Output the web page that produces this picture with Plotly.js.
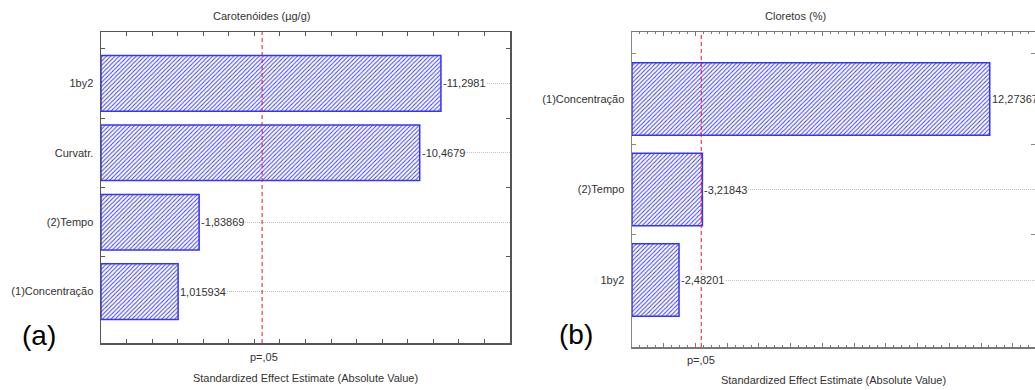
<!DOCTYPE html>
<html>
<head>
<meta charset="utf-8">
<script src="https://cdn.plot.ly/plotly-3.0.1.min.js"></script>
<style>
  html, body { margin: 0; padding: 0; background: #fff; overflow: hidden; }
  #chart { width: 1035px; height: 390px; }
</style>
</head>
<body>
<div id="chart"></div>
<script>
// ---- data ----
const titleA = 'Carotenóides (µg/g)';
const titleB = 'Cloretos (%)';
const xTitle = 'Standardized Effect Estimate (Absolute Value)';
const catsA = ['1by2', 'Curvatr.', '(2)Tempo', '(1)Concentração'];
const effectsA = [-11.2981, -10.4679, -1.83869, 1.015934];
const catsB = ['(1)Concentração', '(2)Tempo', '1by2'];
const effectsB = [12.27367, -3.21843, -2.48201];
const pCritA = 4.303;
const pCritB = 3.182;
const pLabel = 'p=,05';
const panelLabels = ['(a)', '(b)'];

// ---- styling / layout ----
const FONT = 'Liberation Sans, Arial, sans-serif';
const TXT = '#333333';
const X_A = [-2, 14];
const X_B = [1, 13.7];

function fmt(v) { return String(v).replace('.', ','); }

function barTrace(cats, effects, xmin, xa, ya) {
  return {
    type: 'bar', orientation: 'h',
    y: cats,
    x: effects.map(v => Math.abs(v) - xmin),
    base: effects.map(() => xmin),
    xaxis: xa, yaxis: ya,
    marker: {
      color: 'white',
      line: { color: '#3434ff', width: 1.5 },
      pattern: { shape: '/', fgcolor: '#3a3aff', bgcolor: 'white', size: 3, solidity: 0.34 }
    },
    hoverinfo: 'skip', showlegend: false
  };
}

// invisible helper traces so the overlaid boundary-tick axes have categories
function ghostTrace(cats, effects, xa, ya) {
  return {
    type: 'scatter', mode: 'markers', y: cats, x: effects.map(v => Math.abs(v)),
    xaxis: xa, yaxis: ya, marker: { opacity: 0, size: 1 },
    hoverinfo: 'skip', showlegend: false
  };
}

const data = [
  barTrace(catsA, effectsA, X_A[0], 'x', 'y'),
  barTrace(catsB, effectsB, X_B[0], 'x2', 'y2'),
  ghostTrace(catsA, effectsA, 'x', 'y3'),
  ghostTrace(catsB, effectsB, 'x2', 'y4')
];

function valueAnns(cats, effects, xr, yr) {
  return cats.map((c, i) => ({
    x: Math.abs(effects[i]), y: c, xref: xr, yref: yr,
    text: fmt(effects[i]), showarrow: false,
    xanchor: 'left', yanchor: 'middle', xshift: 1,
    bgcolor: 'white', borderpad: 0,
    font: { family: FONT, size: 11, color: TXT }
  }));
}

const annotations = [
  ...valueAnns(catsA, effectsA, 'x', 'y'),
  ...valueAnns(catsB, effectsB, 'x2', 'y2'),
  { text: titleA, x: 261 / 1035, y: 1 - 16 / 390, xref: 'paper', yref: 'paper', showarrow: false,
    xanchor: 'center', yanchor: 'middle', font: { family: FONT, size: 11, color: TXT } },
  { text: titleB, x: 795 / 1035, y: 1 - 16 / 390, xref: 'paper', yref: 'paper', showarrow: false,
    xanchor: 'center', yanchor: 'middle', font: { family: FONT, size: 11, color: TXT } },
  { text: pLabel, x: pCritA, xref: 'x', y: 1 - 357 / 390, yref: 'paper', showarrow: false,
    xanchor: 'center', yanchor: 'middle', xshift: 2, font: { family: FONT, size: 11, color: TXT } },
  { text: pLabel, x: pCritB, xref: 'x2', y: 1 - 360 / 390, yref: 'paper', showarrow: false,
    xanchor: 'center', yanchor: 'middle', font: { family: FONT, size: 11, color: TXT } },
  { text: panelLabels[0], x: 39 / 1035, y: 1 - 335 / 390, xref: 'paper', yref: 'paper', showarrow: false,
    xanchor: 'center', yanchor: 'middle', font: { family: FONT, size: 28, color: '#000' } },
  { text: panelLabels[1], x: 576 / 1035, y: 1 - 334 / 390, xref: 'paper', yref: 'paper', showarrow: false,
    xanchor: 'center', yanchor: 'middle', font: { family: FONT, size: 28, color: '#000' } }
];

const shapes = [
  { type: 'line', xref: 'x', yref: 'y domain', x0: pCritA, x1: pCritA, y0: 0, y1: 1,
    line: { color: '#e8141e', width: 1, dash: '4px,3px' }, layer: 'above' },
  { type: 'line', xref: 'x2', yref: 'y2 domain', x0: pCritB, x1: pCritB, y0: 0, y1: 1,
    line: { color: '#e8141e', width: 1, dash: '4px,3px' }, layer: 'above' }
];

function xAxis(domain, range, anchor, lineColor, titleShift, minorDtick) {
  const ax = {
    domain: domain, range: range, anchor: anchor,
    showline: true, linecolor: lineColor, linewidth: 1.5, mirror: 'ticks',
    showgrid: false, zeroline: false,
    tickmode: 'linear', tick0: 0, dtick: 1, ticks: 'inside', ticklen: 4, tickcolor: lineColor,
    showticklabels: false,
    title: { text: xTitle, font: { family: FONT, size: 11, color: TXT }, standoff: titleShift },
    fixedrange: true
  };
  if (minorDtick) ax.minor = { dtick: minorDtick, ticks: 'inside', ticklen: 2, tickcolor: lineColor };
  return ax;
}

function yAxis(domain, cats, anchor, lineColor) {
  return {
    domain: domain, anchor: anchor,
    type: 'category', categoryorder: 'array', categoryarray: cats,
    range: [cats.length - 1 + 0.74, -0.74],
    showline: true, linecolor: lineColor, linewidth: 1.5, mirror: true,
    showgrid: true, gridcolor: '#c0c0c0', griddash: '1px,1px', gridwidth: 1,
    ticks: '', tickson: 'labels',
    ticklabelstandoff: 4,
    tickfont: { family: FONT, size: 11, color: TXT },
    fixedrange: true
  };
}

function yTickAxis(domain, cats, anchor, over, lineColor) {
  return {
    domain: domain, anchor: anchor, overlaying: over,
    type: 'category', categoryorder: 'array', categoryarray: cats,
    range: [cats.length - 1 + 0.74, -0.74],
    showline: true, linecolor: lineColor, linewidth: 1.5, mirror: 'ticks',
    showgrid: false, showticklabels: false,
    ticks: 'inside', tickson: 'boundaries', ticklen: 4, tickcolor: lineColor,
    fixedrange: true
  };
}

const layout = {
  width: 1035, height: 390,
  margin: { l: 0, r: 0, t: 0, b: 0 },
  paper_bgcolor: 'white', plot_bgcolor: 'white',
  bargap: 0.2,
  font: { family: FONT, size: 11, color: TXT },
  xaxis: xAxis([101 / 1035, 510 / 1035], X_A, 'y', '#555555', 31, null),
  yaxis: yAxis([1 - 343 / 390, 1 - 32 / 390], catsA, 'x', '#555555'),
  yaxis3: yTickAxis([1 - 343 / 390, 1 - 32 / 390], catsA, 'x', 'y', '#555555'),
  xaxis2: xAxis([632 / 1035, 1], X_B, 'y2', '#777777', 29, 0.25),
  yaxis2: yAxis([1 - 347 / 390, 1 - 32 / 390], catsB, 'x2', '#888888'),
  yaxis4: yTickAxis([1 - 347 / 390, 1 - 32 / 390], catsB, 'x2', 'y2', '#888888'),
  annotations: annotations,
  shapes: shapes
};

Plotly.newPlot('chart', data, layout, { displayModeBar: false, staticPlot: true });
</script>
</body>
</html>
